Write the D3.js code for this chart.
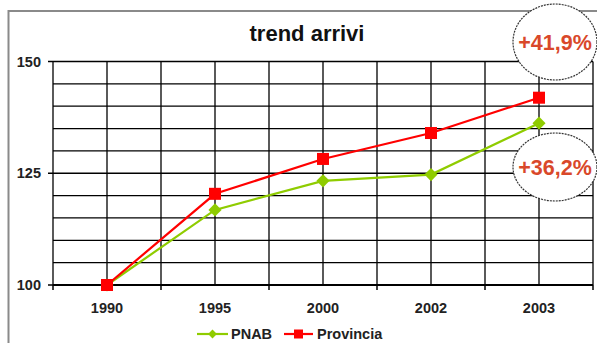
<!DOCTYPE html>
<html>
<head>
<meta charset="utf-8">
<script src="https://cdn.jsdelivr.net/npm/d3@7"></script>
<style>
  body { margin: 0; background: #fff; }
  svg { display: block; font-family: "Liberation Sans", Arial, sans-serif; }
</style>
</head>
<body>
<script>
// data
const years = ["1990", "1995", "2000", "2002", "2003"];
const pnab = [100, 116.8, 123.3, 124.7, 136.2];
const provincia = [100, 120.4, 128.2, 134.0, 141.9];
const yTicks = [100, 125, 150];
const gridSteps = [100, 105, 110, 115, 120, 125, 130, 135, 140, 145, 150];
const seriesNames = ["PNAB", "Provincia"];
const growthLabels = ["+41,9%", "+36,2%"];

const W = 597, H = 343;
const plot = {left: 53, right: 593, top: 61.5, bottom: 285};

const svg = d3.select("body").append("svg")
    .attr("width", W)
    .attr("height", H);

// outer frame
svg.append("rect")
    .attr("x", 8.5).attr("y", 11)
    .attr("width", W + 20).attr("height", H + 20)
    .attr("fill", "none")
    .attr("stroke", "#8a8a8a")
    .attr("stroke-width", 2);

const x = d3.scaleBand().domain(years).range([plot.left, plot.right]).padding(0);
const y = d3.scaleLinear().domain([100, 150]).range([plot.bottom, plot.top]);
const cx = d => x(d) + x.bandwidth() / 2;

// title
svg.append("text")
    .attr("x", 307).attr("y", 41)
    .attr("text-anchor", "middle")
    .attr("font-size", 22).attr("font-weight", "bold")
    .attr("fill", "#111")
    .text("trend arrivi");

// horizontal gridlines
svg.append("g").selectAll("line")
    .data(gridSteps)
    .enter().append("line")
    .attr("x1", plot.left).attr("x2", plot.right)
    .attr("y1", d => y(d)).attr("y2", d => y(d))
    .attr("stroke", "#000").attr("stroke-width", 1.3);

// vertical gridlines: band edges and band centres
const vlines = [];
years.forEach(d => { vlines.push(x(d)); vlines.push(cx(d)); });
vlines.push(plot.right);
svg.append("g").selectAll("line")
    .data(vlines)
    .enter().append("line")
    .attr("x1", d => d).attr("x2", d => d)
    .attr("y1", plot.top).attr("y2", plot.bottom)
    .attr("stroke", "#000").attr("stroke-width", 1.3);

// x axis ticks at band edges
const xEdges = years.map(d => x(d)).concat([plot.right]);
svg.append("g").selectAll("line")
    .data(xEdges)
    .enter().append("line")
    .attr("x1", d => d).attr("x2", d => d)
    .attr("y1", plot.bottom).attr("y2", plot.bottom + 5)
    .attr("stroke", "#000").attr("stroke-width", 1.5);

svg.append("line")
    .attr("x1", plot.left).attr("x2", plot.right)
    .attr("y1", plot.bottom).attr("y2", plot.bottom)
    .attr("stroke", "#000").attr("stroke-width", 2);

svg.append("g").selectAll("text")
    .data(years)
    .enter().append("text")
    .attr("x", d => cx(d)).attr("y", 312.5)
    .attr("text-anchor", "middle")
    .attr("font-size", 14.5).attr("font-weight", "bold")
    .attr("fill", "#222")
    .text(d => d);

// y axis ticks and labels
const yAxis = svg.append("g");
yAxis.selectAll("line")
    .data(yTicks)
    .enter().append("line")
    .attr("x1", plot.left - 5).attr("x2", plot.left)
    .attr("y1", d => y(d)).attr("y2", d => y(d))
    .attr("stroke", "#000").attr("stroke-width", 1.5);
yAxis.selectAll("text")
    .data(yTicks)
    .enter().append("text")
    .attr("x", 41).attr("y", d => y(d) + 5)
    .attr("text-anchor", "end")
    .attr("font-size", 14.5).attr("font-weight", "bold")
    .attr("fill", "#222")
    .text(d => d);

// lines
const line = d3.line()
    .x((d, i) => cx(years[i]))
    .y(d => y(d));

const green = "#8fcc00", red = "#ff0000";

svg.append("path").datum(pnab)
    .attr("d", line).attr("fill", "none")
    .attr("stroke", green).attr("stroke-width", 2.2);
svg.append("path").datum(provincia)
    .attr("d", line).attr("fill", "none")
    .attr("stroke", red).attr("stroke-width", 2.2);

const diamond = d3.symbol().type(d3.symbolDiamond2).size(110);
svg.append("g").selectAll("path")
    .data(pnab)
    .enter().append("path")
    .attr("transform", (d, i) => "translate(" + cx(years[i]) + "," + y(d) + ")")
    .attr("d", diamond)
    .attr("fill", green);

svg.append("g").selectAll("rect")
    .data(provincia)
    .enter().append("rect")
    .attr("x", (d, i) => cx(years[i]) - 6)
    .attr("y", d => y(d) - 6)
    .attr("width", 12).attr("height", 12)
    .attr("fill", red);

// growth callouts
const callouts = [
    {cx: 555, cy: 42, rx: 42, ry: 38, text: growthLabels[0]},
    {cx: 555, cy: 167, rx: 42, ry: 34, text: growthLabels[1]}
];
const cg = svg.append("g").selectAll("g")
    .data(callouts)
    .enter().append("g");
cg.append("ellipse")
    .attr("cx", d => d.cx).attr("cy", d => d.cy)
    .attr("rx", d => d.rx).attr("ry", d => d.ry)
    .attr("fill", "#fff")
    .attr("stroke", "#333").attr("stroke-width", 1.2)
    .attr("stroke-dasharray", "2,1");
cg.append("text")
    .attr("x", d => d.cx).attr("y", d => d.cy + 8)
    .attr("text-anchor", "middle")
    .attr("font-size", 21.5).attr("font-weight", "bold")
    .attr("fill", "#d9482a")
    .text(d => d.text);

// legend
const legend = svg.append("g").attr("transform", "translate(0,334)");
legend.append("line")
    .attr("x1", 197).attr("x2", 228).attr("y1", 0).attr("y2", 0)
    .attr("stroke", green).attr("stroke-width", 2.2);
legend.append("path")
    .attr("transform", "translate(212.5,0)")
    .attr("d", d3.symbol().type(d3.symbolDiamond2).size(50))
    .attr("fill", green);
legend.append("text")
    .attr("x", 231).attr("y", 5)
    .attr("font-size", 14.5).attr("font-weight", "bold").attr("fill", "#222")
    .text(seriesNames[0]);
legend.append("line")
    .attr("x1", 284).attr("x2", 313).attr("y1", 0).attr("y2", 0)
    .attr("stroke", red).attr("stroke-width", 2.2);
legend.append("rect")
    .attr("x", 294).attr("y", -4.5).attr("width", 9).attr("height", 9)
    .attr("fill", red);
legend.append("text")
    .attr("x", 317).attr("y", 5)
    .attr("font-size", 14.5).attr("font-weight", "bold").attr("fill", "#222")
    .text(seriesNames[1]);
</script>
</body>
</html>
